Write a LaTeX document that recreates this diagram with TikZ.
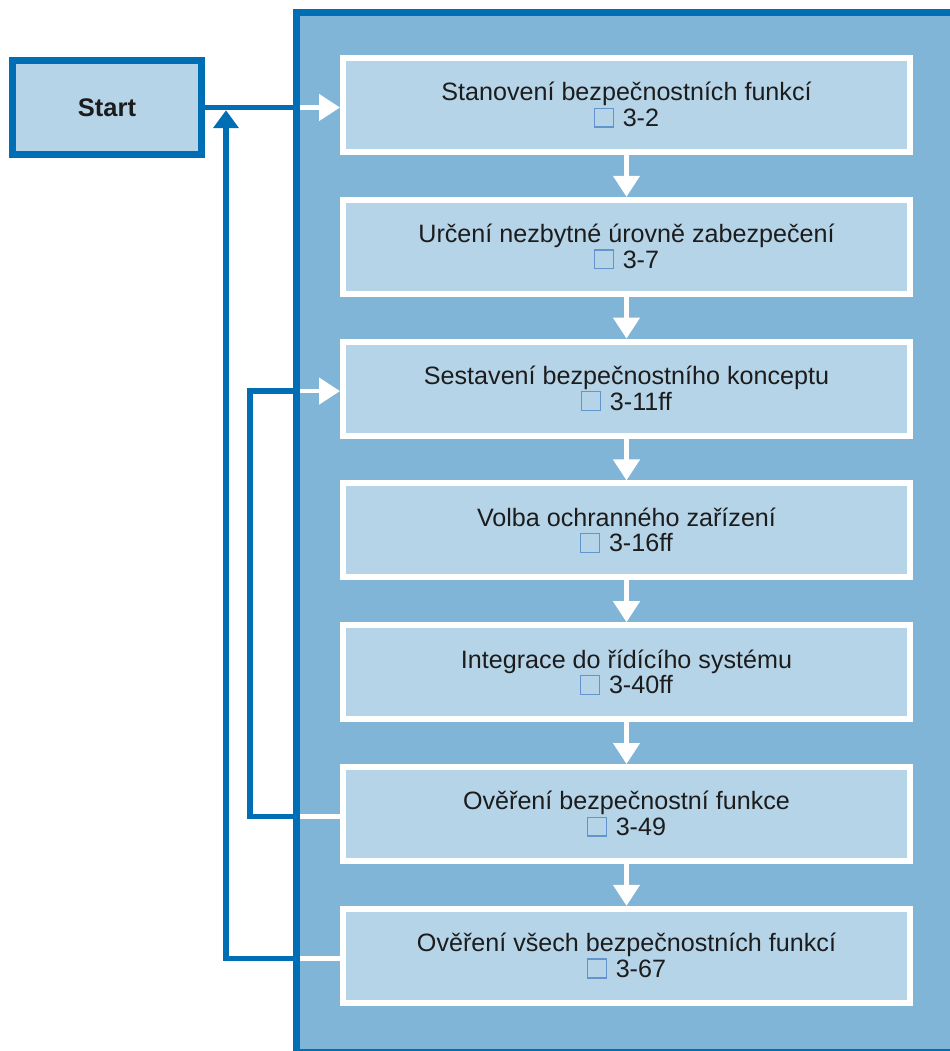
\documentclass[tikz,border=0pt]{standalone}
\usepackage{fontspec}
\setmainfont{Liberation Sans}
\usepackage{xcolor}
\usetikzlibrary{arrows.meta,calc,positioning}

\definecolor{frameblue}{RGB}{0,110,180}
\definecolor{panelblue}{RGB}{128,181,216}
\definecolor{stepfill}{RGB}{182,212,232}
\definecolor{refsquare}{RGB}{100,148,205}
\definecolor{textgray}{RGB}{28,28,28}

% small reference square in front of the page numbers
\newcommand{\refmark}{{\setlength{\fboxsep}{0pt}\setlength{\fboxrule}{0.7pt}%
  \fcolorbox{refsquare}{stepfill}{\rule{0pt}{10pt}\hspace{10pt}}}}
\newcommand{\refline}[1]{\raisebox{0pt}{\refmark}\hspace{5pt}#1}

\begin{document}
\begin{tikzpicture}[
	%	style def
    x=0.2mm, y=-0.2mm,
    every node/.style={text=textgray},
    stagebox/.style={draw=white, line width=1.2mm, fill=stepfill,
      minimum width=113.4mm, minimum height=18.8mm, inner sep=0pt,
      align=center, font=\fontsize{14.3}{14.6}\selectfont},
    startbox/.style={draw=frameblue, line width=1.4mm, fill=stepfill,
      minimum width=37.8mm, minimum height=18.8mm, inner sep=0pt,
      font=\bfseries\fontsize{14.5}{16}\selectfont},
    panel/.style={draw=frameblue, line width=1.4mm, fill=panelblue},
    blueline/.style={draw=frameblue, line width=1.1mm},
    whiteline/.style={draw=white, line width=0.9mm},
    whitearrow/.style={whiteline, -{Triangle[width=5.2mm,length=4.2mm]}}
    ]
    \useasboundingbox (0,0) rectangle (950,1051);
    \clip (0,0) rectangle (950,1051);

	% background panel with the steps
    \draw[panel] (296.5,12.5) coordinate (panelNW) rectangle (990,1052);
    \coordinate (outerturn) at (226,0);
    \coordinate (innerturn) at (250,0);

    % start and the steps
    \node[startbox] (start) at (107,107.5) {Start};
    \node[stagebox] (s1) at (626.5,105) {Stanovení bezpečnostních funkcí\\ \refline{3-2}};
    \node[stagebox] (s2) at (626.5,246.8) {Určení nezbytné úrovně zabezpečení\\ \refline{3-7}};
    \node[stagebox] (s3) at (626.5,388.6) {Sestavení bezpečnostního konceptu\\ \refline{3-11ff}};
    \node[stagebox] (s4) at (626.5,530.4) {Volba ochranného zařízení\\ \refline{3-16ff}};
    \node[stagebox] (s5) at (626.5,672.2) {Integrace do řídícího systému\\ \refline{3-40ff}};
    \node[stagebox] (s6) at (626.5,814) {Ověření bezpečnostní funkce\\ \refline{3-49}};
    \node[stagebox] (s7) at (626.5,955.8) {Ověření všech bezpečnostních funkcí\\ \refline{3-67}};

    % main flow
    \draw[blueline] (start.east) -- (panelNW |- start.east);
    \draw[whitearrow, shorten <=0.7mm] (panelNW |- start.east) -- (s1.west |- start.east);
    \draw[whitearrow] (s1.south) -- (s2.north);
    \draw[whitearrow] (s2.south) -- (s3.north);
    \draw[whitearrow] (s3.south) -- (s4.north);
    \draw[whitearrow] (s4.south) -- (s5.north);
    \draw[whitearrow] (s5.south) -- (s6.north);
    \draw[whitearrow] (s6.south) -- (s7.north);

    % inner loop back to the concept
    \draw[whiteline, shorten >=0.7mm] ([yshift=-0.5mm]s6.west) -- ([yshift=-0.5mm]panelNW |- s6);
    \draw[blueline] ([yshift=-0.5mm]panelNW |- s6) -| ([yshift=-0.5mm]innerturn |- s3)
      -- ([yshift=-0.5mm]panelNW |- s3);
    \draw[whitearrow, shorten <=0.7mm] ([yshift=-0.5mm]panelNW |- s3) -- ([yshift=-0.5mm]s3.west);

    % outer loop back to the start
    \draw[whiteline, shorten >=0.7mm] ([yshift=-0.5mm]s7.west) -- ([yshift=-0.5mm]panelNW |- s7);
    \draw[blueline, -{Triangle[width=5mm,length=3.6mm]}, shorten >=0.55mm]
      ([yshift=-0.5mm]panelNW |- s7) -| (outerturn |- start.east);
\end{tikzpicture}
\end{document}
